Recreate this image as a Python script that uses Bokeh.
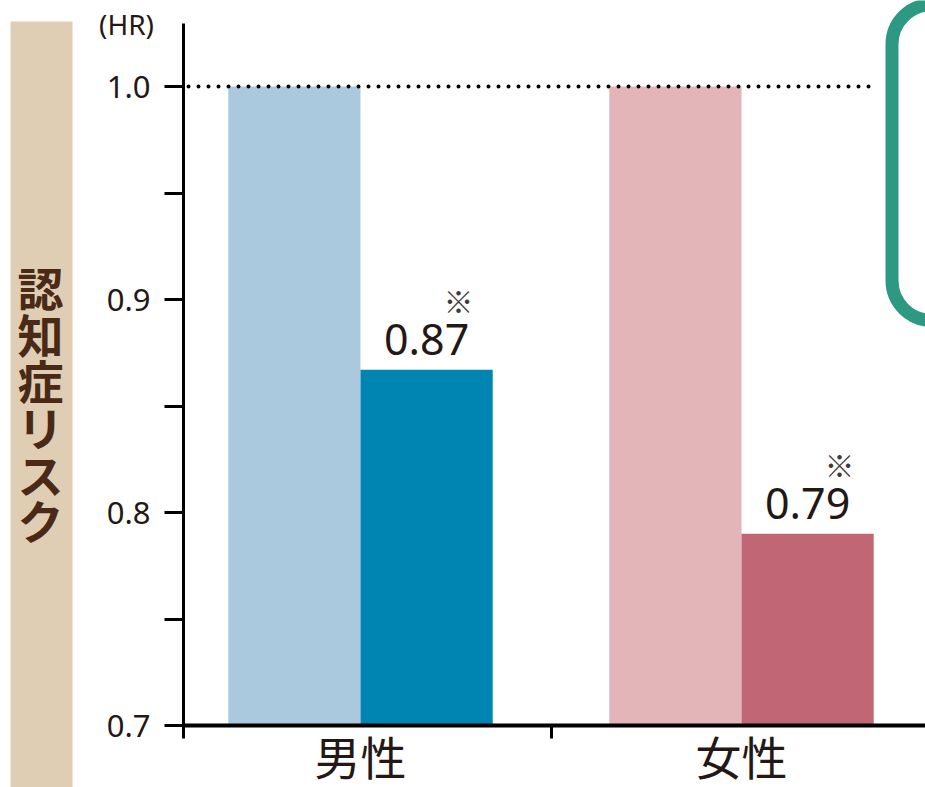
from bokeh.plotting import figure
from bokeh.models import (Range1d, FixedTicker, BoxAnnotation, Label, ColumnDataSource,
                          PrintfTickFormatter)
from bokeh.core.properties import value
from bokeh.embed import file_html
from bokeh.resources import INLINE

# ---- data ----
categories = ["男性", "女性"]
reference_hr = [1.0, 1.0]
study_hr = [0.867, 0.79]
value_labels = ["0.87", "0.79"]
note_marks = ["※", "※"]
light_colors = ["#abc9de", "#e3b5b8"]
dark_colors = ["#0084b1", "#c16674"]
y_major = [0.7, 0.8, 0.9, 1.0]
y_minor = [0.75, 0.85, 0.95]
y_title = "認知症リスク"
unit_label = "(HR)"

CJK = "Noto Sans CJK JP"
NUM = "Noto Sans"
TEXT = "#231815"

centers = [i + 0.5 for i in range(len(categories))]
bar_w = 0.347
left_x = [c - bar_w / 2 for c in centers]
right_x = [c + bar_w / 2 for c in centers]


def xd(px):
    # canvas pixel -> data x
    return 0.5 + (px - 360) / 381


def yd(py):
    # canvas pixel -> data y
    return 1.0 - (py - 86) / 2130


W, H = 925, 787
x_start, x_end = xd(0), xd(W)
y_start, y_end = yd(H), yd(0)
axis_x = xd(183)
base = y_major[0]

p = figure(width=W, height=H, output_backend="svg", toolbar_location=None,
           x_range=Range1d(x_start, x_end), y_range=Range1d(y_start, y_end),
           min_border=0, min_border_left=0, min_border_right=0,
           min_border_top=0, min_border_bottom=0)
p.outline_line_color = None
p.xgrid.visible = False
p.ygrid.visible = False
p.background_fill_color = "white"
p.border_fill_color = "white"

# side band with vertical title
p.add_layout(BoxAnnotation(left=xd(10), right=xd(72), top=yd(21), bottom=yd(790),
                           fill_color="#dfcdb4", fill_alpha=1, line_alpha=0, level="underlay"))
for i, ch in enumerate(y_title):
    p.add_layout(Label(x=xd(40), y=yd(262 + 46.7 * (i + 0.5)), text=ch, text_align="center",
                       text_baseline="middle", text_font=CJK, text_font_size="46px",
                       text_font_style="bold", text_color="#4a2916"))
p.add_layout(Label(x=xd(126), y=yd(23), text=unit_label, text_align="center",
                   text_baseline="middle", text_font=NUM, text_font_size="28px", text_color=TEXT))

src = ColumnDataSource(dict(cat=categories, left_x=left_x, right_x=right_x, center=centers,
                            ref=reference_hr, hr=study_hr, lab=value_labels, note=note_marks,
                            lc=light_colors, dc=dark_colors))

p.vbar(x="left_x", top="ref", bottom=base, width=bar_w, fill_color="lc", line_color=None, source=src)
p.vbar(x="right_x", top="hr", bottom=base, width=bar_w, fill_color="dc", line_color=None, source=src)

p.text(x="right_x", y="hr", text="lab", source=src, text_align="center", text_baseline="middle",
       y_offset=-30, text_font=value(NUM), text_font_size="43px", text_color=TEXT)
p.text(x="right_x", y="hr", text="note", source=src, text_align="center", text_baseline="middle",
       x_offset=32, y_offset=-70, text_font=value(CJK), text_font_size="30px", text_color="#3e3a39")

# reference line at HR = 1.0
p.line(x=[xd(188), xd(876)], y=[reference_hr[0], reference_hr[0]], line_color="black",
       line_width=4, line_dash="0 10", line_cap="round")

# green bracket
p.add_layout(BoxAnnotation(left=xd(891.5), right=xd(1100), top=yd(4), bottom=yd(320),
                           fill_alpha=0, line_color="#2e9982", line_alpha=1, line_width=13,
                           border_radius=40))

# y axis
ya = p.yaxis[0]
ya.fixed_location = axis_x
ya.ticker = FixedTicker(ticks=y_major, minor_ticks=y_minor)
ya.formatter = PrintfTickFormatter(format="%.1f")
ya.bounds = (base, yd(23))
ya.axis_line_width = 3
ya.axis_line_color = "black"
ya.major_tick_line_width = 3
ya.minor_tick_line_width = 3
ya.major_tick_out = 19
ya.major_tick_in = 0
ya.minor_tick_out = 19
ya.minor_tick_in = 0
ya.major_label_standoff = 14
ya.major_label_text_font = NUM
ya.major_label_text_font_size = "31px"
ya.major_label_text_color = TEXT

# x axis
xa = p.xaxis[0]
xa.fixed_location = base
xa.ticker = FixedTicker(ticks=centers, minor_ticks=[axis_x, 1.0])
xa.major_label_overrides = {c: n for c, n in zip(centers, categories)}
xa.bounds = (axis_x, x_end)
xa.axis_line_width = 4
xa.axis_line_color = "black"
xa.major_tick_out = 0
xa.major_tick_in = 0
xa.minor_tick_out = 13
xa.minor_tick_in = 0
xa.minor_tick_line_width = 3
xa.major_label_standoff = -17
xa.major_label_text_font = CJK
xa.major_label_text_font_size = "46px"
xa.major_label_text_color = TEXT

open("out.html", "w").write(file_html(p, INLINE))
